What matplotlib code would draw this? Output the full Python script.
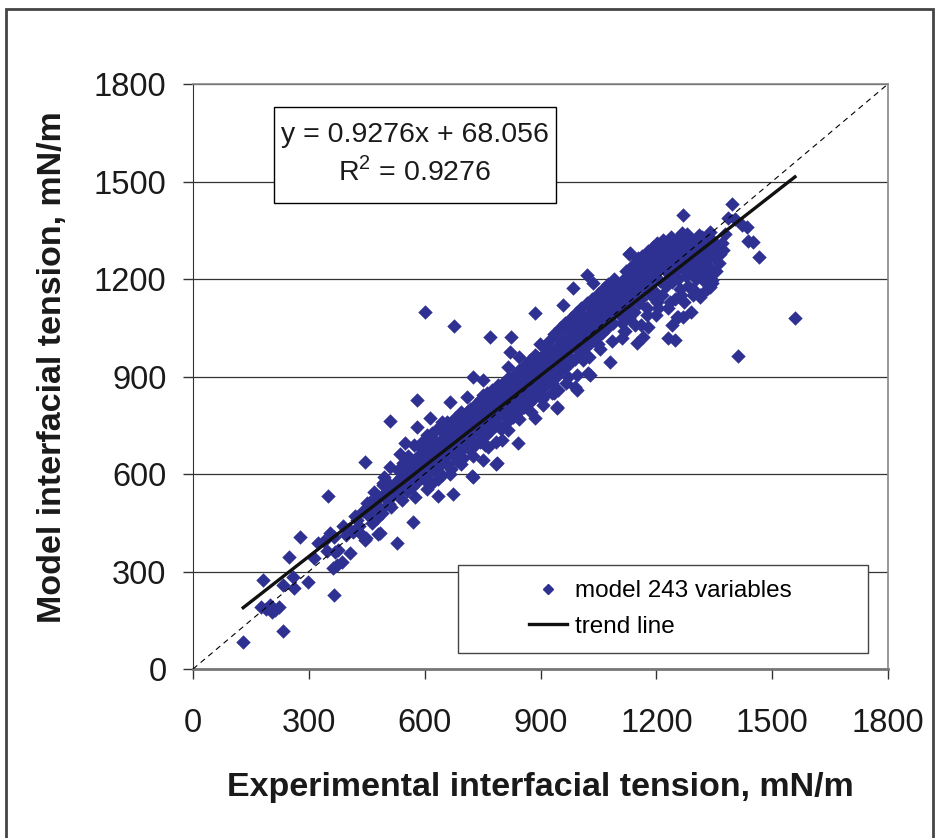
import numpy as np
import matplotlib
matplotlib.use("Agg")
import matplotlib.pyplot as plt
from matplotlib.patches import Rectangle
from matplotlib.lines import Line2D

plt.rcParams['font.family'] = ['Liberation Sans', 'DejaVu Sans']
plt.rcParams['mathtext.fontset'] = 'custom'
plt.rcParams['mathtext.rm'] = 'Liberation Sans'

# (experimental, model) pairs, mN/m
pts_low = [(130, 83), (233, 117), (175, 190), (188, 184), (200, 196), (212, 181), (222, 191),
           (205, 176), (181, 274), (233, 258), (262, 249), (259, 283), (298, 268), (249, 345),
           (277, 406), (324, 388), (313, 342), (347, 363), (365, 228), (363, 311), (373, 320),
           (386, 329), (368, 360), (376, 366), (365, 406), (389, 440), (407, 357), (350, 532),
           (414, 421), (433, 418), (448, 403), (479, 415), (425, 458), (451, 511), (464, 449),
           (477, 465), (490, 480), (492, 572), (502, 575), (502, 520), (445, 637), (484, 418),
           (445, 397), (458, 514), (492, 566), (510, 622), (510, 763), (420, 472), (440, 486),
           (455, 470), (470, 503), (481, 528), (498, 541), (512, 498), (516, 561), (395, 412),
           (404, 430), (468, 546), (486, 492), (505, 552), (431, 441), (461, 488), (474, 520),
           (495, 590), (508, 508), (519, 535), (340, 395), (355, 420)]

pts_mid1 = [(528, 388), (536, 662), (549, 695), (570, 452), (580, 828), (600, 1098), (614, 772),
            (580, 745), (645, 760), (666, 822), (635, 532), (674, 538), (676, 1055),
            (525, 575), (530, 548), (532, 612), (538, 592), (541, 520), (545, 635), (548, 565),
            (552, 604), (555, 548), (558, 655), (561, 582), (563, 621), (566, 561), (568, 598),
            (572, 690), (575, 612), (577, 642), (579, 575), (583, 603), (586, 660), (588, 628),
            (591, 590), (593, 700), (596, 648), (598, 615), (601, 583), (603, 670), (605, 635),
            (607, 720), (610, 602), (612, 655), (615, 688), (617, 628), (619, 572), (622, 662),
            (624, 705), (626, 640), (628, 610), (631, 690), (633, 740), (636, 655), (638, 625),
            (640, 702), (643, 672), (645, 598), (648, 728), (650, 685), (652, 650), (655, 710),
            (657, 760), (659, 632), (662, 695), (664, 728), (667, 668), (669, 615), (671, 742),
            (673, 700), (676, 655), (678, 772), (680, 720), (682, 688), (684, 640), (687, 745),
            (689, 705), (691, 670), (694, 790), (696, 725), (698, 688), (700, 760), (699, 650)]

pts_mid2 = [(725, 591), (751, 643), (723, 594), (787, 634), (764, 683), (800, 705), (842, 695),
            (785, 631), (710, 837), (751, 843), (725, 898), (751, 889), (769, 1021), (824, 1021),
            (821, 975), (886, 1095), (886, 772), (907, 812), (907, 837),
            (703, 735), (706, 700), (708, 772), (711, 745), (713, 680), (716, 720), (718, 800),
            (720, 758), (722, 705), (725, 780), (727, 738), (730, 690), (732, 815), (735, 762),
            (737, 728), (740, 795), (742, 745), (744, 700), (747, 830), (749, 780), (751, 750),
            (754, 805), (756, 718), (758, 770), (761, 850), (763, 795), (765, 745), (768, 820),
            (770, 772), (772, 735), (775, 860), (777, 808), (779, 770), (782, 835), (784, 790),
            (786, 750), (789, 875), (791, 815), (793, 780), (796, 845), (798, 740), (800, 800),
            (803, 880), (805, 830), (807, 785), (810, 858), (812, 812), (814, 760), (817, 895),
            (819, 840), (821, 800), (824, 870), (826, 825), (828, 775), (831, 905), (833, 852),
            (835, 815), (838, 880), (840, 835), (842, 790), (845, 920), (847, 865), (849, 830),
            (852, 895), (854, 850), (856, 805), (859, 935), (861, 880), (863, 842), (866, 910),
            (868, 862), (870, 820), (873, 950), (875, 895), (877, 858), (880, 925), (882, 875),
            (884, 835), (887, 965), (889, 910), (891, 870), (894, 940), (896, 890), (898, 850),
            (899, 1000), (845, 960), (815, 930)]

pts_high1 = [(958, 1120), (1020, 1212), (1036, 1188), (985, 1172), (1080, 945), (1023, 911),
             (989, 868), (945, 858), (995, 858), (1028, 905), (943, 806), (943, 803),
             (902, 930), (905, 885), (907, 965), (910, 910), (912, 870), (915, 985), (917, 940),
             (919, 895), (922, 1010), (924, 955), (926, 915), (929, 880), (931, 975), (933, 930),
             (936, 1030), (938, 962), (940, 900), (943, 990), (945, 945), (947, 915), (950, 1050),
             (952, 985), (954, 940), (957, 1005), (959, 960), (961, 925), (964, 1065), (966, 1015),
             (968, 970), (971, 1035), (973, 985), (975, 940), (978, 1080), (980, 1030), (982, 995),
             (985, 1050), (987, 1000), (989, 955), (992, 1095), (994, 1045), (996, 1010),
             (999, 1065), (1001, 1020), (1003, 975), (1006, 1110), (1008, 1060), (1010, 1025),
             (1013, 1080), (1015, 1035), (1017, 990), (1020, 1125), (1022, 1075), (1024, 1040),
             (1027, 1095), (1029, 1050), (1031, 1005), (1034, 1140), (1036, 1090), (1038, 1055),
             (1041, 1110), (1043, 1065), (1045, 1020), (1048, 1155), (1050, 1105), (1052, 1070),
             (1055, 1125), (1057, 1080), (1059, 1035), (1062, 1170), (1064, 1120), (1066, 1085),
             (1069, 1140), (1071, 1095), (1073, 1050), (1076, 1185), (1078, 1135), (1080, 1100),
             (1083, 1155), (1085, 1110), (1087, 1065), (1090, 1200), (1092, 1150), (1094, 1115),
             (1097, 1170), (1099, 1125), (1050, 1000), (970, 900), (1010, 950), (930, 850)]

pts_high2 = [(1129, 1277), (1202, 1311), (1266, 1341), (1365, 1277), (1339, 1203), (1313, 1145),
             (1256, 1083), (1230, 1018), (1248, 1012), (1269, 1397), (1230, 1314), (1360, 1280),
             (1344, 1197), (1339, 1175), (1269, 1083), (1254, 1083), (1178, 1052), (1166, 1021),
             (1150, 1003), (1132, 1280), (1153, 1265), (1176, 1258),
             (1102, 1140), (1105, 1090), (1107, 1180), (1110, 1125), (1112, 1065), (1115, 1200),
             (1117, 1150), (1119, 1105), (1122, 1225), (1124, 1170), (1126, 1120), (1129, 1080),
             (1131, 1190), (1133, 1140), (1136, 1240), (1138, 1200), (1140, 1155), (1143, 1100),
             (1145, 1215), (1147, 1170), (1150, 1255), (1152, 1205), (1154, 1125), (1157, 1230),
             (1159, 1185), (1161, 1140), (1164, 1270), (1166, 1220), (1168, 1170), (1171, 1245),
             (1173, 1195), (1175, 1110), (1178, 1285), (1180, 1235), (1182, 1185), (1185, 1150),
             (1187, 1260), (1189, 1210), (1192, 1300), (1194, 1250), (1196, 1160), (1199, 1225),
             (1201, 1275), (1203, 1130), (1206, 1240), (1208, 1290), (1210, 1195), (1213, 1260),
             (1215, 1150), (1217, 1320), (1220, 1230), (1222, 1275), (1224, 1180), (1227, 1250),
             (1229, 1300), (1231, 1110), (1234, 1215), (1236, 1265), (1238, 1330), (1241, 1190),
             (1243, 1245), (1245, 1290), (1248, 1140), (1250, 1225), (1252, 1270), (1255, 1310),
             (1257, 1200), (1259, 1255), (1262, 1170), (1264, 1290), (1266, 1235), (1269, 1320),
             (1271, 1130), (1273, 1265), (1276, 1210), (1278, 1300), (1280, 1245), (1283, 1180),
             (1285, 1280), (1287, 1325), (1290, 1225), (1292, 1265), (1294, 1150), (1297, 1300),
             (1299, 1240), (1302, 1280), (1304, 1200), (1306, 1320), (1309, 1260), (1311, 1230),
             (1313, 1295), (1316, 1265), (1318, 1330), (1320, 1215), (1323, 1280), (1325, 1250),
             (1327, 1310), (1330, 1240), (1332, 1290), (1334, 1330), (1337, 1265), (1340, 1300),
             (1342, 1230), (1345, 1320), (1348, 1270), (1350, 1295), (1330, 1170), (1290, 1100),
             (1240, 1060), (1200, 1090), (1160, 1060), (1120, 1040), (1110, 1020)]

# points along the outer edges of the main band
pts_edge = [(560, 640), (575, 530), (590, 680), (605, 555), (620, 725), (635, 585), (650, 740),
            (665, 600), (680, 770), (695, 630), (710, 790), (725, 655), (740, 820), (755, 690),
            (770, 850), (785, 700), (800, 875), (815, 735), (830, 900), (845, 770), (860, 930),
            (875, 790), (890, 960), (905, 830), (920, 990), (935, 850), (950, 1015), (965, 880),
            (980, 1045), (995, 905), (1010, 1080), (1025, 960), (1040, 1110), (1055, 985),
            (1070, 1125), (1085, 1010), (1100, 1175), (1115, 1040), (1130, 1210), (1145, 1060),
            (1160, 1230), (1175, 1090), (1190, 1265), (1205, 1110), (1220, 1290), (1235, 1130),
            (1250, 1320), (1265, 1150), (1280, 1340), (1295, 1170), (1310, 1335), (1325, 1190),
            (1340, 1345)]

pts_top = [(1396, 1431), (1386, 1388), (1404, 1385), (1422, 1366), (1435, 1360), (1437, 1317),
           (1450, 1314), (1466, 1268), (1559, 1080), (1412, 963), (1344, 1188), (1313, 1151),
           (1360, 1274), (1378, 1340), (1370, 1310), (1362, 1250), (1355, 1225), (1372, 1290)]

slope = 0.9276
intercept = 68.056
ticks = [0, 300, 600, 900, 1200, 1500, 1800]

all_pts = pts_low + pts_mid1 + pts_mid2 + pts_high1 + pts_high2 + pts_edge + pts_top
exp_x = np.array([p[0] for p in all_pts])
model_y = np.array([p[1] for p in all_pts])

fig = plt.figure(figsize=(9.38, 8.38), dpi=100)
ax = fig.add_axes([193 / 938, 1 - 669 / 838, 695 / 938, 585 / 838])

navy = '#2E3192'
ax.scatter(exp_x, model_y, marker='D', s=54, color=navy, linewidths=0, zorder=2)

ax.plot([0, 1800], [0, 1800], color='black', lw=0.8, dashes=(5, 4), zorder=3)
tx = np.array([exp_x.min(), exp_x.max()])
ax.plot(tx, slope * tx + intercept, color='#111111', lw=2.4, zorder=3)

ax.set_xlim(0, 1800)
ax.set_ylim(0, 1800)
ax.set_xticks(ticks)
ax.set_yticks(ticks)
ax.yaxis.grid(True, color='#333333', lw=0.9)
ax.set_axisbelow(True)
ax.tick_params(axis='both', direction='out', length=7, width=1, color='#333333',
               labelsize=23.5, labelcolor='#1a1a1a')
ax.tick_params(axis='y', pad=12)
ax.tick_params(axis='x', pad=21)

for side in ['top', 'right']:
    ax.spines[side].set_color('#888888')
    ax.spines[side].set_linewidth(1.2)
ax.spines['left'].set_color('#333333')
ax.spines['bottom'].set_color('#777777')
ax.spines['bottom'].set_linewidth(2)

ax.set_xlabel('Experimental interfacial tension, mN/m', fontsize=24.5, fontweight='bold',
              labelpad=24, color='#1a1a1a')
ax.set_ylabel('Model interfacial tension, mN/m', fontsize=24.5, fontweight='bold',
              color='#1a1a1a')
ax.yaxis.set_label_coords(-0.18, 0.516)

# equation box
ax.add_patch(Rectangle((0.1165, 0.797), 0.4055, 0.164, transform=ax.transAxes,
                       facecolor='white', edgecolor='black', lw=1, zorder=4))
ax.text(0.319, 0.913, 'y = 0.9276x + 68.056', transform=ax.transAxes, fontsize=20.5,
        ha='center', va='center', zorder=5, color='#1a1a1a')
ax.text(0.319, 0.850, r'R$^{2}$ = 0.9276', transform=ax.transAxes, fontsize=20.5,
        ha='center', va='center', zorder=5, color='#1a1a1a')

# legend box
ax.add_patch(Rectangle((0.381, 0.027), 0.59, 0.151, transform=ax.transAxes,
                       facecolor='white', edgecolor='#444444', lw=1, zorder=4))
handles = [Line2D([], [], marker='D', ls='none', color=navy, markersize=5),
           Line2D([], [], color='#111111', lw=2.4)]
leg = ax.legend(handles, ['model 243 variables', 'trend line'], loc='center',
                bbox_to_anchor=(0.672, 0.1025), frameon=False, fontsize=17.5,
                handlelength=1.6, handletextpad=0.3, labelspacing=0.55)
leg.set_zorder(5)

# outer frame
fig.patches.append(Rectangle((6 / 938, -0.02), 927 / 938, 1.02 - 9 / 838,
                             transform=fig.transFigure, fill=False,
                             edgecolor='#444444', lw=2))

fig.savefig('out.png', dpi=100)
